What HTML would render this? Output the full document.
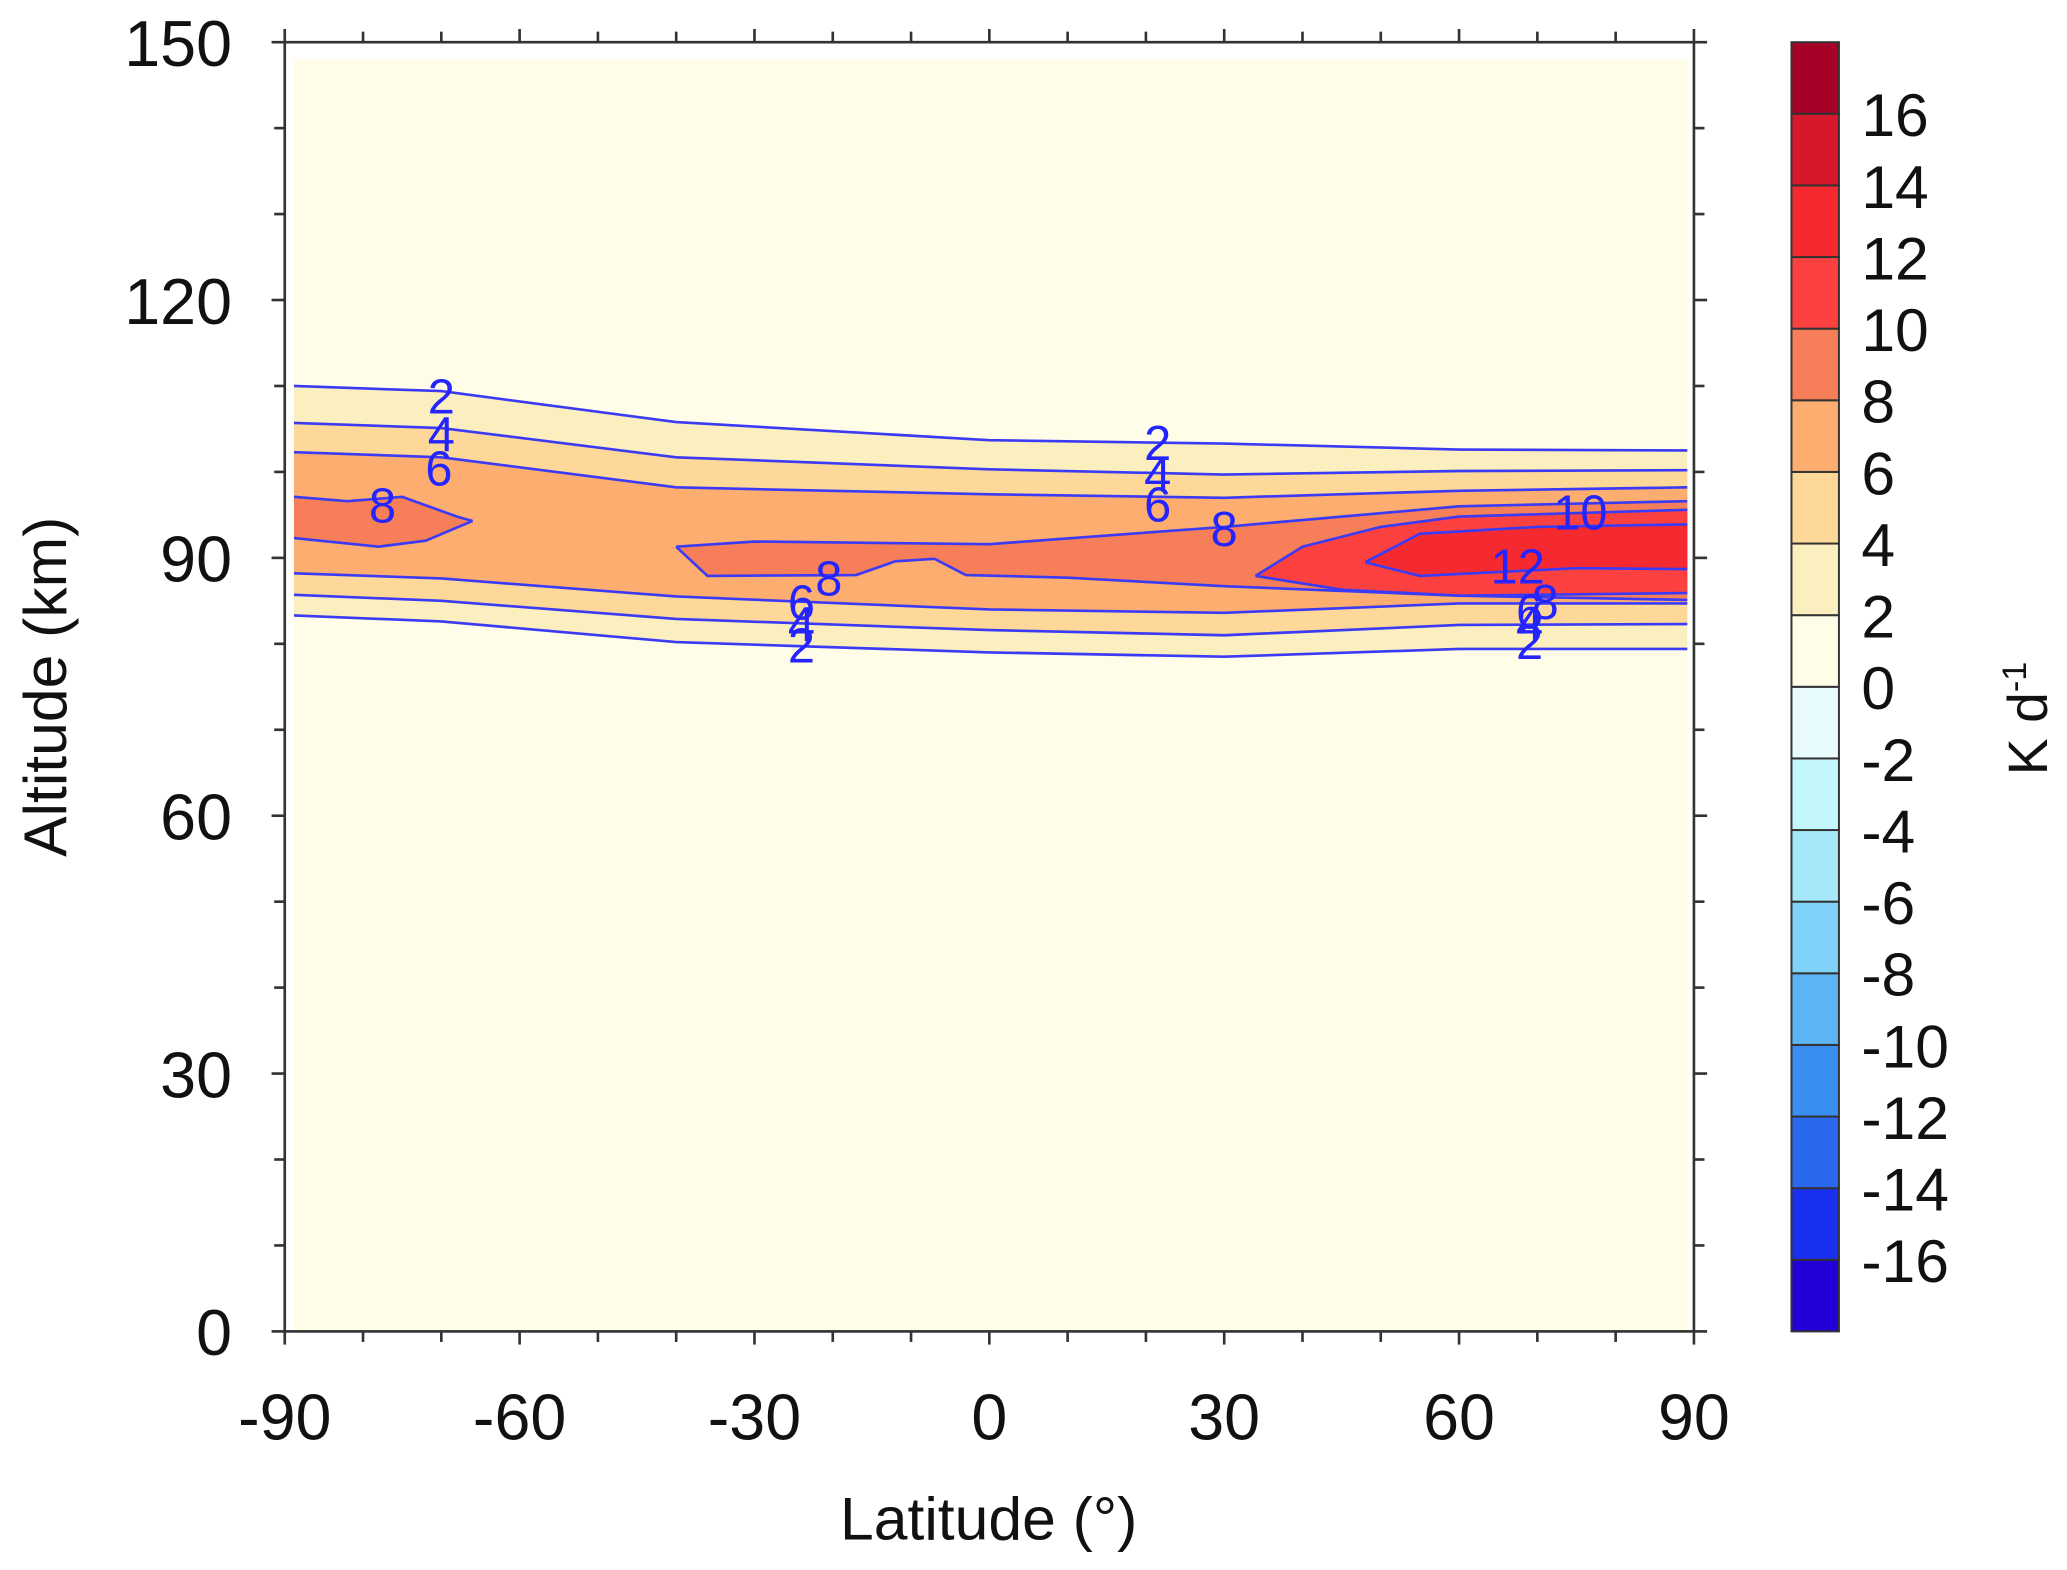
<!DOCTYPE html>
<html><head><meta charset="utf-8"><style>
html,body{margin:0;padding:0;background:#fff;}
svg{display:block;}
text{font-family:"Liberation Sans",sans-serif;}
</style></head><body>
<svg id="chart" width="2067" height="1570" viewBox="0 0 1568 1191" xmlns="http://www.w3.org/2000/svg">
<g id="fills"></g>
<g id="lines"></g>
<g id="clabels"></g>
<g id="axes"></g>
<g id="cbar"></g>
<text x="750" y="1168" font-size="46" text-anchor="middle" fill="#111">Latitude (°)</text>
<text transform="translate(50,521) rotate(-90)" font-size="46" text-anchor="middle" fill="#111">Altitude (km)</text>
<text transform="translate(1553,545) rotate(-90)" font-size="42" text-anchor="middle" fill="#111">K d<tspan font-size="26" dy="-16">-1</tspan></text>
</svg>
<script>
// Contour lines (lat, altitude km)
const lats = [-90, -70, -40, 0, 30, 60, 90];
const up2 = [110.0, 109.4, 105.8, 103.7, 103.3, 102.6, 102.5];
const up4 = [105.7, 105.1, 101.7, 100.3, 99.7, 100.1, 100.2];
const up6 = [102.3, 101.7, 98.2, 97.4, 97.0, 97.8, 98.2];
const lo6 = [88.2, 87.6, 85.5, 84.0, 83.6, 84.7, 84.7];
const lo4 = [85.7, 85.0, 82.9, 81.6, 81.0, 82.2, 82.3];
const lo2 = [83.3, 82.6, 80.2, 79.0, 78.5, 79.4, 79.4];
// blobs: upper and lower boundaries, both from left to right
const blob8LeftUp = [[-90,97.1],[-82,96.6],[-75,97.1],[-68,94.8],[-66,94.3]];
const blob8LeftLo = [[-90,92.3],[-78,91.3],[-72,92.0],[-66,94.3]];
const blob8MainUp = [[-40,91.3],[-30,91.9],[0,91.6],[30,93.6],[60,96.0],[90,96.6]];
const blob8MainLo = [[-40,91.3],[-36,87.9],[-17,88.0],[-12,89.6],[-7,89.9],[-3,88.0],[10,87.7],[30,86.7],[60,85.6],[90,85.1]];
const blob10Up = [[34,87.9],[40,91.3],[50,93.6],[60,94.8],[90,95.6]];
const blob10Lo = [[34,87.9],[45,86.3],[60,85.6],[90,85.9]];
const blob12Up = [[48,89.5],[55,92.8],[70,93.6],[90,93.9]];
const blob12Lo = [[48,89.5],[55,87.9],[75,88.8],[90,88.7]];
const labelText = ["2","4","6","8","2","4","6","8","10","12","8","6","4","2","8","6","4","2"];
const labelLat = [-70,-70,-70.3,-77.5,21.5,21.5,21.5,30,75.5,67.5,71,69,69,69,-20.5,-24,-24,-24];
const labelAlt = [108.8,104.4,100.4,96.1,103.4,99.7,96.2,93.4,95.3,89.0,84.9,83.8,82.3,80.2,87.6,84.8,82.3,79.8];
const xTicks = [-90,-60,-30,0,30,60,90];
const yTicks = [0,30,60,90,120,150];
const cbLevels = [-18,-16,-14,-12,-10,-8,-6,-4,-2,0,2,4,6,8,10,12,14,16,18];
const cbColors = ["#2300d8","#1a30f0","#2a68ee","#3a8ef0","#5cb4f5","#80d2f8","#a4e8fa","#c4f7fc","#e8fbfd","#fffde8","#fbefc0","#fed898","#fdad70","#f67e58","#fd4040","#f52a30","#d7182a","#a50026"];

const NS="http://www.w3.org/2000/svg";
const X0=216,X1=1285,Y0=1010,Y1=32,DL=223,DR=1280;
const xs=v=>Math.min(DR,Math.max(DL,X0+(v+90)/180*(X1-X0)));
const ys=v=>Y0-v/150*(Y0-Y1);
function mk(tag,attrs,parent){const e=document.createElementNS(NS,tag);for(const k in attrs)e.setAttribute(k,attrs[k]);parent.appendChild(e);return e;}
const fills=document.getElementById('fills'),lines=document.getElementById('lines'),cl=document.getElementById('clabels'),axes=document.getElementById('axes'),cbar=document.getElementById('cbar');
const lineCol="#3b3bf5";
const pts=arr=>arr.map((a,i)=>[xs(lats[i]),ys(a)]);
const ptsP=arr=>arr.map(p=>[xs(p[0]),ys(p[1])]);
const str=p=>p.map(q=>q[0].toFixed(1)+","+q[1].toFixed(1)).join(" ");
const bg=mk('rect',{x:DL,y:45,width:DR-DL,height:Y0-45,fill:"#fffde8"},fills);


const bands=[[up2,lo2,cbColors[10],'band-2-4'],[up4,lo4,cbColors[11],'band-4-6'],[up6,lo6,cbColors[12],'band-6-8']];
bands.forEach(b=>{
  const p=pts(b[0]).concat(pts(b[1]).reverse());
  const e=mk('polygon',{points:str(p),fill:b[2]},fills);
  
  
});
[[blob8LeftUp,blob8LeftLo,cbColors[13],'band-8-left'],[blob8MainUp,blob8MainLo,cbColors[13],'band-8-main'],[blob10Up,blob10Lo,cbColors[14],'band-10-12'],[blob12Up,blob12Lo,cbColors[15],'band-12-14']].forEach(b=>{
  const pu=ptsP(b[0]),pl=ptsP(b[1]);
  const e=mk('polygon',{points:str(pu.concat(pl.slice().reverse())),fill:b[2]},fills);
  
  
  [pu,pl].forEach(p=>{
    const l=mk('polyline',{points:str(p),fill:"none",stroke:lineCol,"stroke-width":2},lines);
    
    
  });
});
[[up2,'up-2'],[up4,'up-4'],[up6,'up-6'],[lo6,'lo-6'],[lo4,'lo-4'],[lo2,'lo-2']].forEach(c=>{
  const l=mk('polyline',{points:str(pts(c[0])),fill:"none",stroke:lineCol,"stroke-width":2},lines);
  
  
});
labelText.forEach((t,i)=>{
  const e=mk('text',{x:xs(labelLat[i]),y:ys(labelAlt[i])+13,"font-size":37,"text-anchor":"middle",fill:"#2424ff"},cl);
  e.textContent=t;
  
  
});
const fr=mk('rect',{x:X0,y:Y1,width:X1-X0,height:Y0-Y1,fill:"none",stroke:"#333","stroke-width":2},axes);


for(let v=-90;v<=90;v+=10){const maj=v%30===0,L=maj?10:8,x=X0+(v+90)/180*(X1-X0);
  mk('line',{x1:x,x2:x,y1:Y0,y2:Y0+L,stroke:"#333","stroke-width":2},axes);
  mk('line',{x1:x,x2:x,y1:Y1,y2:Y1-L,stroke:"#333","stroke-width":2},axes);}
for(let v=0;v<=150;v+=10){const L=v%30===0?10:8;
  mk('line',{x1:X0,x2:X0-L,y1:ys(v),y2:ys(v),stroke:"#333","stroke-width":2},axes);
  mk('line',{x1:X1,x2:X1+L,y1:ys(v),y2:ys(v),stroke:"#333","stroke-width":2},axes);}
xTicks.forEach(v=>{const e=mk('text',{x:X0+(v+90)/180*(X1-X0),y:1092,"font-size":49,"text-anchor":"middle",fill:"#111"},axes);e.textContent=v;
  
  });
yTicks.forEach(v=>{const e=mk('text',{x:176,y:ys(v)+18,"font-size":49,"text-anchor":"end",fill:"#111"},axes);e.textContent=v;
  
  });
const CX=1359,CW=36,cy=v=>Y0-(v+18)/36*(Y0-Y1);
cbColors.forEach((c,i)=>{const e=mk('rect',{x:CX,y:cy(cbLevels[i+1]),width:CW,height:cy(cbLevels[i])-cy(cbLevels[i+1]),fill:c,stroke:"#333","stroke-width":1.5},cbar);
  
  });
cbLevels.slice(1,-1).forEach(v=>{const e=mk('text',{x:1412,y:cy(v)+17,"font-size":46,fill:"#111"},cbar);e.textContent=v;
  
  });
</script>
</body></html>
